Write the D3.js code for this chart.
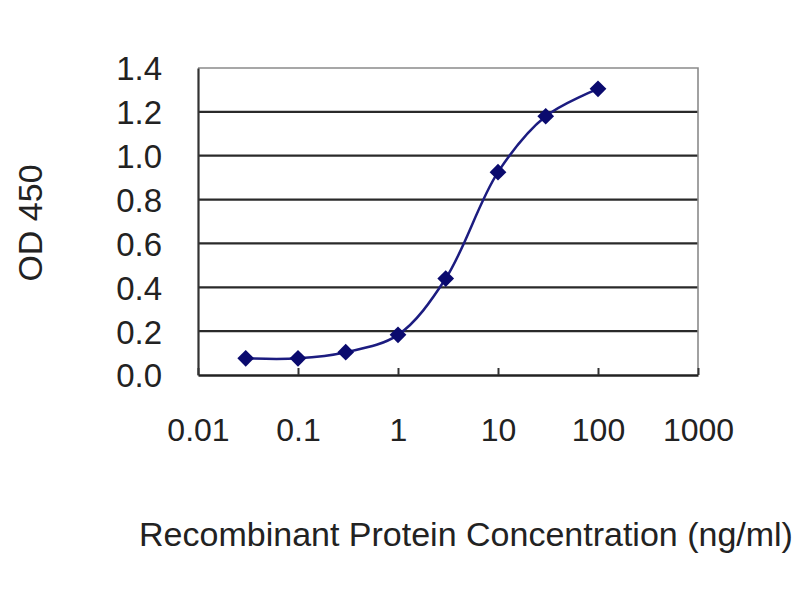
<!DOCTYPE html>
<html lang="en">
<head>
<meta charset="UTF-8">
<title>OD 450 vs concentration</title>
<script src="https://d3js.org/d3.v7.min.js"></script>
<style>
  body { margin: 0; background: #fff; }
  svg { display: block; }
  text { font-family: "Liberation Sans", Arial, sans-serif; fill: #222; }
</style>
</head>
<body>
<svg id="chart" width="800" height="600"></svg>
<script>
// concentration (ng/ml) and measured OD 450
const concentrations = [0.03, 0.1, 0.3, 1, 3, 10, 30, 100];
const odValues = [0.076, 0.076, 0.104, 0.183, 0.44, 0.925, 1.18, 1.305];
const xTicks = [0.01, 0.1, 1, 10, 100, 1000];
const xTickLabels = ["0.01", "0.1", "1", "10", "100", "1000"];
const yTicks = [0, 0.2, 0.4, 0.6, 0.8, 1.0, 1.2, 1.4];

const svg = d3.select("#chart");
const plotLeft = 198, plotRight = 698, plotTop = 68, plotBottom = 375;

const x = d3.scaleLog().domain([0.01, 1000]).range([plotLeft, plotRight]);
const y = d3.scaleLinear().domain([0, 1.4]).range([plotBottom, plotTop]);

// gridlines
svg.append("g")
  .selectAll("line")
  .data(yTicks.filter(d => d > 0 && d < 1.4))
  .join("line")
  .attr("x1", plotLeft).attr("x2", plotRight)
  .attr("y1", d => y(d)).attr("y2", d => y(d))
  .attr("stroke", "#2a2a2a")
  .attr("stroke-width", 2.2);

// plot border (top / right)
svg.append("path")
  .attr("d", `M${plotLeft},${y(1.4)}H${plotRight}V${plotBottom}`)
  .attr("fill", "none")
  .attr("stroke", "#8a8a8a")
  .attr("stroke-width", 1.6);

// y axis
const yAxis = svg.append("g")
  .attr("transform", `translate(${plotLeft},0)`)
  .call(d3.axisLeft(y).tickValues(yTicks).tickFormat(d3.format(".1f")).tickSize(0).tickPadding(36));
yAxis.select(".domain").attr("stroke", "#333").attr("stroke-width", 2.2);
yAxis.selectAll("text").style("font-size", "33px").attr("dy", "0.36em");

// x axis
const xAxis = svg.append("g")
  .attr("transform", `translate(0,${plotBottom})`)
  .call(d3.axisBottom(x).tickValues(xTicks).tickFormat((d, i) => xTickLabels[i])
    .tickSizeInner(-7).tickSizeOuter(0).tickPadding(43));
xAxis.select(".domain").attr("stroke", "#222").attr("stroke-width", 2.4);
xAxis.selectAll(".tick line").attr("stroke", "#333").attr("stroke-width", 2);
xAxis.selectAll("text").style("font-size", "32px");

// fitted curve
const pts = concentrations.map((c, i) => [x(c), y(odValues[i])]);
svg.append("path")
  .attr("d", d3.line().curve(d3.curveCatmullRom.alpha(0.5))(pts))
  .attr("fill", "none")
  .attr("stroke", "#1c1c80")
  .attr("stroke-width", 2.5);

// diamond markers
svg.append("g")
  .selectAll("path")
  .data(pts)
  .join("path")
  .attr("transform", d => `translate(${d[0]},${d[1]}) rotate(45)`)
  .attr("d", d3.symbol(d3.symbolSquare, 140)())
  .attr("fill", "#0a0a6e");

// axis titles
svg.append("text")
  .attr("x", 466).attr("y", 546)
  .attr("text-anchor", "middle")
  .style("font-size", "34px")
  .text("Recombinant Protein Concentration (ng/ml)");

svg.append("text")
  .attr("transform", "translate(42,223) rotate(-90)")
  .attr("text-anchor", "middle")
  .style("font-size", "34px")
  .text("OD 450");
</script>
</body>
</html>
